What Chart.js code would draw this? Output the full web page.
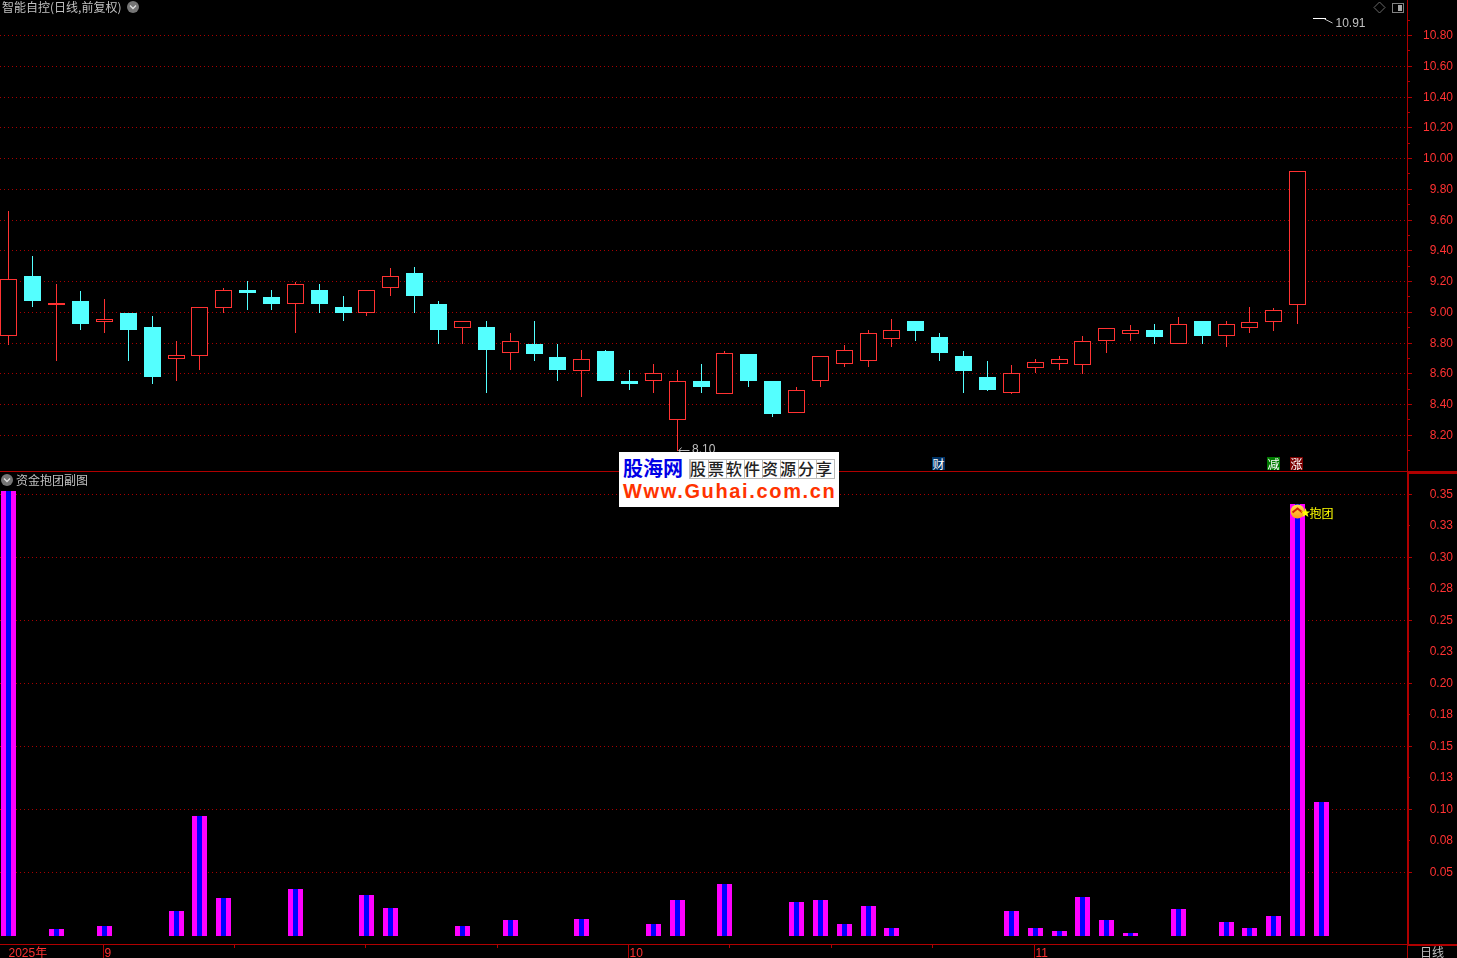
<!DOCTYPE html>
<html>
<head>
<meta charset="utf-8">
<title>智能自控</title>
<script src="https://cdn.jsdelivr.net/npm/chart.js@4/dist/chart.umd.js"></script>
<style>
  html, body { margin: 0; background: #000; overflow: hidden; width: 1457px; height: 958px; }
  canvas { position: absolute; left: 0; }
  #priceChart { top: 0; }
  #volChart { top: 472px; }
  .txt { position: absolute; white-space: nowrap; font: 12px/14px "Noto Sans CJK SC", sans-serif; color: #c0c0c0; }
  .badge { position: absolute; top: 457px; width: 13px; height: 13px; color: #fff; text-align: center;
           font: 12px/13px "Noto Sans CJK SC", sans-serif; overflow: hidden; }
  #logo { position: absolute; left: 619px; top: 452px; width: 220px; height: 55px; background: #fff; overflow: hidden; }
  #logo div { position: absolute; white-space: nowrap; }
  #logoA { left: 4px; top: 2px; font: bold 20px/28px "Noto Sans CJK SC", sans-serif; color: #0000e6; }
  #logoB { left: 71px; top: 8px; width: 144px; height: 18px; box-sizing: border-box; font: 500 16px/17px "Noto Sans CJK SC", sans-serif;
           letter-spacing: 2px; color: #222; outline: 1px solid #bbb;
           background: repeating-linear-gradient(90deg, #bbb 0 1px, transparent 1px 18px); }
  #logoC { left: 4px; top: 27px; font: bold 20px/24px "Liberation Sans", sans-serif; letter-spacing: 1.65px; color: #ff3300; }
</style>
</head>
<body>
<canvas id="priceChart" width="1457" height="472"></canvas>
<canvas id="volChart" width="1457" height="486"></canvas>

<div class="txt" style="left:2px;top:0">智能自控(日线,前复权)</div>
<div class="txt" style="left:16px;top:473px">资金抱团副图</div>
<div class="txt" style="left:1420px;top:945px">日线</div>
<div class="badge" style="left:932px;background:#003366">财</div>
<div class="badge" style="left:1267px;background:#007a00">减</div>
<div class="badge" style="left:1290px;background:#7a0000">涨</div>
<div id="logo">
  <div id="logoA">股海网</div>
  <div id="logoB">股票软件资源分享</div>
  <div id="logoC">Www.Guhai.com.cn</div>
</div>

<script>
// trading days, the last one only has a bar in the lower pane
var dates = [
  "08-26","08-27","08-28","08-29",
  "09-01","09-02","09-03","09-04","09-05","09-08","09-09","09-10","09-11","09-12",
  "09-15","09-16","09-17","09-18","09-19","09-22","09-23","09-24","09-25","09-26","09-29","09-30",
  "10-09","10-10","10-13","10-14","10-15","10-16","10-17","10-20","10-21","10-22","10-23","10-24",
  "10-27","10-28","10-29","10-30","10-31",
  "11-03","11-04","11-05","11-06","11-07","11-10","11-11","11-12","11-13","11-14","11-17","11-18","11-19"
];

var opens  = [8.85,9.24,9.05,9.08,8.94,9.00,8.91,8.70,8.72,9.03,9.15,9.10,9.06,9.15,9.04,9.00,9.16,9.26,9.06,8.90,
              8.91,8.74,8.80,8.71,8.62,8.75,8.56,8.56,8.30,8.56,8.47,8.73,8.56,8.35,8.56,8.67,8.69,8.83,8.95,8.84,
              8.72,8.58,8.48,8.64,8.67,8.66,8.82,8.86,8.89,8.80,8.95,8.85,8.90,8.94,9.05];
var closes = [9.22,9.08,9.063,8.93,8.96,8.89,8.58,8.725,9.04,9.15,9.13,9.06,9.19,9.06,9.00,9.15,9.24,9.11,8.89,8.95,
              8.76,8.82,8.73,8.63,8.70,8.56,8.54,8.61,8.56,8.52,8.74,8.56,8.34,8.50,8.72,8.76,8.87,8.89,8.88,8.74,
              8.62,8.50,8.61,8.68,8.70,8.82,8.90,8.89,8.84,8.93,8.85,8.93,8.94,9.02,9.92];
var highs  = [9.66,9.37,9.19,9.14,9.09,9.00,8.98,8.82,9.04,9.16,9.21,9.15,9.20,9.19,9.11,9.15,9.29,9.30,9.08,8.95,
              8.95,8.87,8.95,8.80,8.76,8.76,8.63,8.67,8.63,8.67,8.75,8.73,8.56,8.52,8.72,8.79,8.89,8.96,8.95,8.87,
              8.75,8.69,8.66,8.70,8.72,8.85,8.90,8.92,8.93,8.97,8.95,8.95,9.04,9.03,9.92];
var lows   = [8.79,9.04,8.69,8.89,8.87,8.69,8.54,8.56,8.63,9.00,9.02,9.02,8.87,9.00,8.95,8.98,9.11,9.00,8.80,8.80,
              8.48,8.63,8.69,8.56,8.45,8.56,8.50,8.48,8.10,8.48,8.47,8.52,8.32,8.35,8.52,8.65,8.65,8.78,8.82,8.69,
              8.48,8.49,8.47,8.61,8.63,8.60,8.74,8.82,8.80,8.80,8.80,8.78,8.87,8.88,8.93];

var priceTicks = [8.2,8.4,8.6,8.8,9.0,9.2,9.4,9.6,9.8,10.0,10.2,10.4,10.6,10.8];
var priceTickLabels = ["8.20","8.40","8.60","8.80","9.00","9.20","9.40","9.60","9.80","10.00","10.20","10.40","10.60","10.80"];
var priceMinorTicks = [8.1,8.3,8.5,8.7,8.9,9.1,9.3,9.5,9.7,9.9,10.1,10.3,10.5,10.7,10.9];
var lowMark  = { day: 28, price: 8.10, label: "8.10" };
var highMark = { day: 55, price: 10.91, label: "10.91" };

// lower pane, "资金抱团" values by day
var volValues = [0.3532,0,0.0056,0,0.0079,0,0,0.0198,0.0952,0.0302,0,0,0.0373,0,0,0.0325,0.0222,0,0,0.0079,
                 0,0.0127,0,0,0.0135,0,0,0.0095,0.0286,0,0.0413,0,0,0.0270,0.0286,0.0095,0.0238,0.0063,0,0,
                 0,0,0.0198,0.0063,0.0040,0.0310,0.0127,0.0024,0,0.0214,0,0.0111,0.0063,0.0159,0.3429,0.1063];
var volTicks = [0.05,0.075,0.1,0.125,0.15,0.175,0.2,0.225,0.25,0.275,0.3,0.325,0.35];
var volTickLabels = ["0.05","0.08","0.10","0.13","0.15","0.18","0.20","0.23","0.25","0.28","0.30","0.33","0.35"];
var signalDay = 54;
var signalText = "抱团";

var monthTickDays = [0,4,26,43];
var monthTickLabels = ["2025年","9","10","11"];
var weekTickDays = [9.5,15,20.5,30.25,34.5,38.75];

var RED = "#ff3232", CYAN = "#54ffff", AXIS = "#b00000", GRID = "#a80000", GRAY = "#c0c0c0";

// whole pixel positions, the terminal this comes from draws without any smoothing
class SnapScale extends Chart.LinearScale {
  static id = "snap";
  getPixelForValue(v) {
    var p = super.getPixelForValue(v);
    return this.isHorizontal() ? Math.floor(p) + 0.5 : Math.round(p);
  }
  getPixelForTick(i) {
    return super.getPixelForTick(i) - (this.isHorizontal() ? 1 : 0.1);
  }
  getLineWidthForValue() { return 0; }
}
Chart.register(SnapScale);

var X_MIN = -0.3763, X_MAX = 58.58;

// tick padding leaks into the layout, this pane needs the full height
function noPadding(s) {
  s.paddingTop = 0; s.paddingBottom = 0; s.paddingLeft = 0; s.paddingRight = 0;
}

function yScale(min, max, ticks, labels, isMajor) {
  return {
    type: "snap", position: "right", min: min, max: max,
    // labels end at the right edge of the scale, 4px of layout padding sits behind it
    afterFit: function(s) { s.width = 46; noPadding(s); },
    afterBuildTicks: function(s) { s.ticks = ticks.map(function(v) { return { value: v }; }); },
    border: { color: AXIS, dash: [1, 3] },
    grid: {
      color: function(c) { return isMajor(c.index) ? GRID : "rgba(0,0,0,0)"; },
      tickColor: function(c) { return isMajor(c.index) ? AXIS : "rgba(0,0,0,0)"; },
      tickLength: 5
    },
    ticks: {
      color: RED, padding: 6, crossAlign: "far", autoSkip: false,
      font: { family: "'Liberation Sans'", size: 12 },
      callback: function(v, i) { return labels[i]; }
    }
  };
}

function hline(ctx, x, y, w, h, color) {
  ctx.fillStyle = color;
  ctx.fillRect(x, y, w, h);
}

function roundIcon(ctx, cx, cy) {
  ctx.save();
  ctx.fillStyle = "#757575";
  ctx.beginPath(); ctx.arc(cx, cy, 6, 0, Math.PI * 2); ctx.fill();
  ctx.strokeStyle = "#e0e0e0"; ctx.lineWidth = 1.3;
  ctx.beginPath(); ctx.moveTo(cx - 3, cy - 1.5); ctx.lineTo(cx, cy + 1.5); ctx.lineTo(cx + 3, cy - 1.5); ctx.stroke();
  ctx.restore();
}

var priceChrome = {
  id: "priceChrome",
  afterDraw: function(chart) {
    var ctx = chart.ctx, x = chart.scales.x, y = chart.scales.y;
    priceMinorTicks.forEach(function(v) { hline(ctx, 1408, y.getPixelForValue(v) - 1, 2, 1, AXIS); });
    hline(ctx, 0, 471, 1407, 1, AXIS);
    hline(ctx, 1407, 471, 50, 1, AXIS);

    // lowest / highest price marks
    ctx.save();
    ctx.font = "12px 'Liberation Sans'";
    ctx.textBaseline = "middle";
    var lx = x.getPixelForValue(lowMark.day), ly = y.getPixelForValue(lowMark.price) - 1;
    hline(ctx, lx + 1, ly, 11, 1, GRAY);
    ctx.strokeStyle = GRAY;
    ctx.beginPath(); ctx.moveTo(lx + 4, ly - 2.5); ctx.lineTo(lx + 1.5, ly + 0.5); ctx.lineTo(lx + 4, ly + 3.5); ctx.stroke();
    ctx.fillStyle = GRAY;
    ctx.fillText(lowMark.label, lx + 14.5, ly);

    var hx = x.getPixelForValue(highMark.day), hy = y.getPixelForValue(highMark.price) - 1;
    hline(ctx, hx - 8.5, hy, 13, 1, "#ffffff");
    ctx.strokeStyle = GRAY;
    ctx.beginPath(); ctx.moveTo(hx + 3, hy + 1); ctx.lineTo(hx + 11, hy + 5); ctx.stroke();
    ctx.fillStyle = GRAY;
    ctx.fillText(highMark.label, hx + 14, hy + 5.5);
    ctx.restore();

    roundIcon(ctx, 133, 7);

    // corner icons
    ctx.save();
    ctx.strokeStyle = "#6a6a6a";
    ctx.beginPath(); ctx.moveTo(1379.5, 2); ctx.lineTo(1385, 7.5); ctx.lineTo(1379.5, 13); ctx.lineTo(1374, 7.5); ctx.closePath(); ctx.stroke();
    ctx.strokeStyle = "#808080"; ctx.lineWidth = 1;
    ctx.strokeRect(1392.5, 3.5, 11, 9);
    hline(ctx, 1398, 5, 4, 6, "#a8a8a8");
    ctx.restore();
  }
};

var volChrome = {
  id: "volChrome",
  afterDraw: function(chart) {
    var ctx = chart.ctx, x = chart.scales.x, y = chart.scales.y;
    volTicks.forEach(function(v, i) { if (i % 2 == 1) hline(ctx, 1408, y.getPixelForValue(v) - 1, 2, 1, AXIS); });
    hline(ctx, 1408, 0, 1, 472, AXIS);
    hline(ctx, 1407, 0, 50, 2, AXIS);
    hline(ctx, 1407, 472, 50, 2, AXIS);
    hline(ctx, 1407, 472, 1, 14, AXIS);
    weekTickDays.forEach(function(d) { hline(ctx, x.getPixelForValue(d) - 1.5, 473, 1, 3, AXIS); });

    roundIcon(ctx, 7, 8);

    // signal icon above the last big bar
    var sx = x.getPixelForValue(signalDay), sy = y.getPixelForValue(volValues[signalDay]) + 7.5;
    ctx.save();
    var g = ctx.createLinearGradient(0, sy - 7, 0, sy + 7);
    g.addColorStop(0, "#ffe14a"); g.addColorStop(1, "#ff9a1a");
    ctx.fillStyle = g;
    ctx.beginPath(); ctx.arc(sx, sy, 7, 0, Math.PI * 2); ctx.fill();
    ctx.strokeStyle = "#d02000"; ctx.lineWidth = 2;
    ctx.beginPath(); ctx.moveTo(sx - 5, sy + 1); ctx.lineTo(sx, sy - 3); ctx.lineTo(sx + 5, sy + 1); ctx.stroke();
    ctx.fillStyle = "#ffff00";
    ctx.beginPath();
    for (var k = 0; k < 10; k++) {
      var r = k % 2 ? 2 : 5, a = -Math.PI / 2 + k * Math.PI / 5;
      ctx.lineTo(sx + 8 + r * Math.cos(a), sy + 1.5 + r * Math.sin(a));
    }
    ctx.closePath(); ctx.fill();
    ctx.font = "12px 'Noto Sans CJK SC'";
    ctx.textBaseline = "middle";
    ctx.fillText(signalText, sx + 12, sy + 1.5);
    ctx.restore();
  }
};

var isUp = opens.map(function(o, i) { return closes[i] >= o; });

new Chart(document.getElementById("priceChart"), {
  type: "bar",
  plugins: [priceChrome],
  data: {
    datasets: [
      {
        label: "body", order: 1, grouped: false, barThickness: 17, borderWidth: 1, borderSkipped: false, inflateAmount: 0,
        data: opens.map(function(o, i) { return { x: i, y: [o, closes[i]] }; }),
        backgroundColor: isUp.map(function(u) { return u ? "#000000" : CYAN; }),
        borderColor: isUp.map(function(u) { return u ? RED : CYAN; })
      },
      {
        label: "wick", order: 2, grouped: false, barThickness: 1, borderWidth: 0, inflateAmount: 0,
        data: lows.map(function(l, i) { return { x: i, y: [l, highs[i]] }; }),
        backgroundColor: isUp.map(function(u) { return u ? RED : CYAN; })
      }
    ]
  },
  options: {
    responsive: false, animation: false,
    layout: { autoPadding: false, padding: { right: 4 } },
    plugins: { legend: { display: false }, tooltip: { enabled: false } },
    scales: {
      x: { type: "snap", display: false, min: X_MIN, max: X_MAX, offset: false, grid: { offset: false } },
      y: yScale(7.9651, 11.0341, priceTicks, priceTickLabels, function() { return true; })
    }
  }
});

new Chart(document.getElementById("volChart"), {
  type: "bar",
  plugins: [volChrome],
  data: {
    datasets: [
      {
        label: "inner", order: 1, grouped: false, barThickness: 5, borderWidth: 0, inflateAmount: 0,
        data: volValues.map(function(v, i) { return { x: i, y: v }; }),
        backgroundColor: "#0000ff"
      },
      {
        label: "outer", order: 2, grouped: false, barThickness: 15, borderWidth: 0, inflateAmount: 0,
        data: volValues.map(function(v, i) { return { x: i, y: v }; }),
        backgroundColor: "#ff00ff"
      }
    ]
  },
  options: {
    responsive: false, animation: false,
    layout: { autoPadding: false, padding: { right: 4 } },
    plugins: { legend: { display: false }, tooltip: { enabled: false } },
    scales: {
      x: {
        type: "snap", position: "bottom", min: X_MIN, max: X_MAX, offset: false,
        afterFit: function(s) { s.height = 14; noPadding(s); },
        afterBuildTicks: function(s) { s.ticks = monthTickDays.map(function(d) { return { value: d }; }); },
        border: { color: AXIS },
        grid: {
          offset: false, drawOnChartArea: false, tickLength: 14,
          tickColor: function(c) { return c.index === 0 ? "rgba(0,0,0,0)" : AXIS; }
        },
        ticks: {
          color: RED, padding: -12, align: "start", labelOffset: 1, autoSkip: false, maxRotation: 0, minRotation: 0,
          font: { family: "'Liberation Sans','Noto Sans CJK SC'", size: 12 },
          callback: function(v, i) { return monthTickLabels[i]; }
        }
      },
      y: yScale(-0.00635, 0.36825, volTicks, volTickLabels, function(i) { return i % 2 == 0; })
    }
  }
});
</script>
</body>
</html>
